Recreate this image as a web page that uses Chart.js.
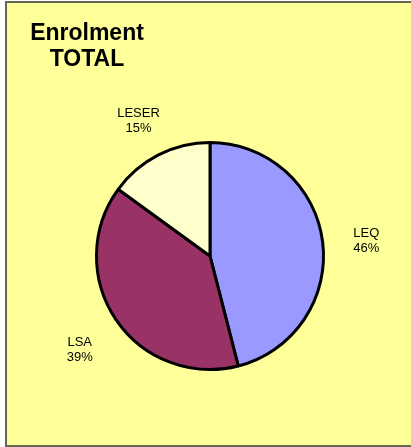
<!DOCTYPE html>
<html>
<head>
<meta charset="utf-8">
<script src="https://cdn.jsdelivr.net/npm/chart.js@4/dist/chart.umd.min.js"></script>
<style>
  body { margin: 0; background: #fff; }
  canvas { display: block; }
</style>
</head>
<body>
<canvas id="enrolcanvas" width="411" height="447"></canvas>
<script>
var categories = ['LEQ', 'LSA', 'LESER'];
var enrolValues = [46, 39, 15];
var sliceColors = ['#9999FF', '#993366', '#FFFFCC'];
var titleLines = ['Enrolment', 'TOTAL'];

// panel background + frame, like the excel chart area
var panelPlugin = {
  id: 'panel',
  beforeDraw: function (chart) {
    var ctx = chart.ctx;
    ctx.save();
    ctx.fillStyle = '#ffffff';
    ctx.fillRect(0, 0, chart.width, chart.height);
    ctx.fillStyle = '#FFFF99';
    ctx.fillRect(5, 1, chart.width - 5, chart.height - 2);
    ctx.strokeStyle = '#666655';
    ctx.lineWidth = 2;
    ctx.beginPath();
    ctx.moveTo(chart.width, 2);
    ctx.lineTo(6, 2);
    ctx.lineTo(6, chart.height - 1);
    ctx.lineTo(chart.width, chart.height - 1);
    ctx.stroke();
    ctx.restore();
  }
};

// two line title, centred on each other
var titlePlugin = {
  id: 'twoLineTitle',
  afterDraw: function (chart) {
    var ctx = chart.ctx;
    ctx.save();
    ctx.font = 'bold 23px "Liberation Sans", Arial, sans-serif';
    ctx.fillStyle = '#000';
    ctx.textAlign = 'center';
    ctx.textBaseline = 'alphabetic';
    for (var i = 0; i < titleLines.length; i++) {
      ctx.fillText(titleLines[i], 87, 40 + i * 26);
    }
    ctx.restore();
  }
};

// category + percent outside each slice
var sliceLabelPlugin = {
  id: 'sliceLabels',
  afterDatasetsDraw: function (chart) {
    var ctx = chart.ctx;
    var meta = chart.getDatasetMeta(0);
    var data = chart.data.datasets[0].data;
    var total = data.reduce(function (a, b) { return a + b; }, 0);
    ctx.save();
    ctx.font = '13px "Liberation Sans", Arial, sans-serif';
    ctx.fillStyle = '#000';
    ctx.textAlign = 'center';
    ctx.textBaseline = 'middle';
    meta.data.forEach(function (arc, i) {
      var p = arc.getProps(['x', 'y', 'startAngle', 'endAngle', 'outerRadius'], true);
      var mid = (p.startAngle + p.endAngle) / 2;
      var r = p.outerRadius + 44;
      var cx = p.x + Math.cos(mid) * r;
      var cy = p.y + Math.sin(mid) * r + 5;
      ctx.fillText(chart.data.labels[i], cx, cy - 7.5);
      ctx.fillText(Math.round(data[i] / total * 100) + '%', cx, cy + 7.5);
    });
    ctx.restore();
  }
};

var ctx = document.getElementById('enrolcanvas').getContext('2d');
var enrolChart = new Chart(ctx, {
  type: 'pie',
  data: {
    labels: categories,
    datasets: [{
      data: enrolValues,
      backgroundColor: sliceColors,
      borderColor: '#000000',
      borderWidth: 3
    }]
  },
  options: {
    responsive: false,
    animation: false,
    layout: { padding: { left: 95, right: 86, top: 141, bottom: 76 } },
    plugins: {
      legend: { display: false },
      tooltip: { enabled: false },
      title: { display: false }
    }
  },
  plugins: [panelPlugin, titlePlugin, sliceLabelPlugin]
});
</script>
</body>
</html>
